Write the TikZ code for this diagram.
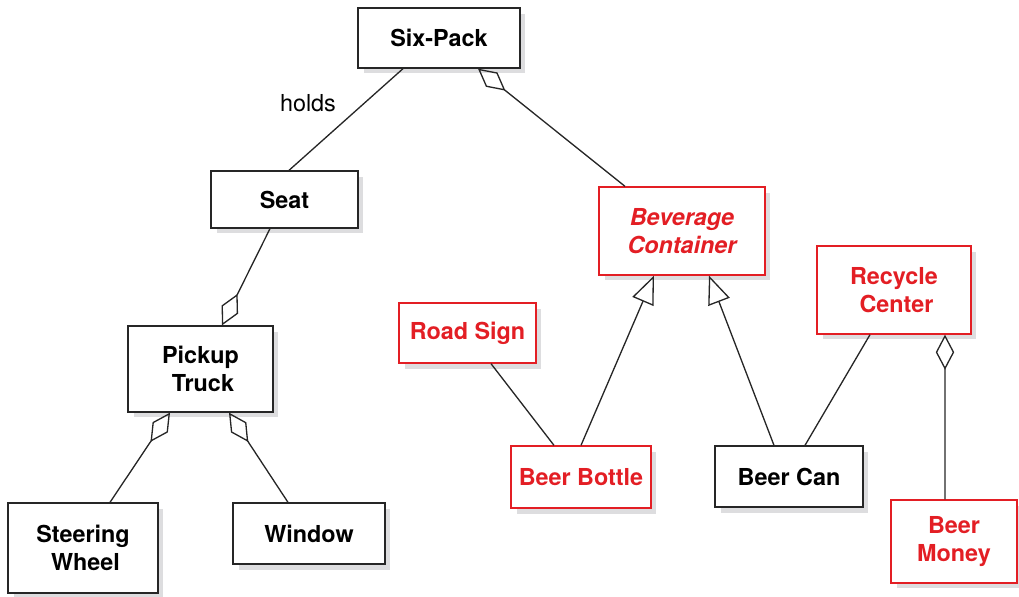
\documentclass[tikz,border=0pt]{standalone}
\usepackage{fontspec}
\setmainfont{TeX Gyre Heros}
\usepackage{tikz}
\usetikzlibrary{arrows.meta, shadows}

\definecolor{umlred}{RGB}{227,30,36}
\definecolor{shadowgray}{RGB}{221,221,223}

\begin{document}
\begin{tikzpicture}[
  x=0.02cm, y=-0.02cm,
  cls/.style={rectangle, draw=black!85, line width=0.75pt, fill=white,
              align=center, inner sep=0pt, font=\fontsize{13.3}{15.5}\selectfont\bfseries,
              drop shadow={shadow xshift=0.11cm, shadow yshift=-0.11cm,
                           fill=shadowgray, opacity=1}},
  redcls/.style={cls, draw=umlred, text=umlred},
  conn/.style={line width=0.75pt, draw=black!85},
  agg/.style={conn, {Diamond[open, length=20pt, width=10.5pt, line width=0.75pt]}-},
  gen/.style={conn, -{Triangle[open, length=16pt, width=13pt, line width=0.75pt]}},
  role/.style={font=\fontsize{13.3}{15.5}\selectfont}
]
\useasboundingbox (0,0) rectangle (1019,596);

% classes
\node[cls, minimum width=3.24cm, minimum height=1.2cm] (sixpack) at (439,38) {Six-Pack};
\node[cls, minimum width=2.94cm, minimum height=1.14cm] (seat) at (284.5,199.5) {Seat};
\node[cls, minimum width=2.9cm, minimum height=1.72cm] (pickup) at (200.5,369) {Pickup\\ \hspace{0.1cm}Truck};
\node[cls, minimum width=3.0cm, minimum height=1.8cm] (wheel) at (83,548) {Steering\\ \hspace{0.1cm}Wheel};
\node[cls, minimum width=3.04cm, minimum height=1.22cm] (window) at (309,533.5) {Window};
\node[redcls, minimum width=3.32cm, minimum height=1.76cm] (container) at (682,231) {\itshape Beverage\\ \itshape Container};
\node[redcls, minimum width=3.08cm, minimum height=1.76cm] (recycle) at (894,290) {Recycle\\ \hspace{0.1cm}Center};
\node[redcls, minimum width=2.74cm, minimum height=1.2cm] (roadsign) at (467.5,333) {Road Sign};
\node[redcls, minimum width=2.8cm, minimum height=1.24cm] (bottle) at (581,477) {Beer Bottle};
\node[cls, minimum width=2.96cm, minimum height=1.22cm] (can) at (789,476.5) {Beer Can};
\node[redcls, minimum width=2.52cm, minimum height=1.66cm] (money) at (954,541.5) {Beer\\ Money};

% associations
\draw[conn] ([xshift=-0.72cm]sixpack.south) -- ([xshift=0.09cm]seat.north);
\node[role] (holds) at (308,103) {holds};
\draw[conn] ([xshift=0.47cm]roadsign.south) -- ([xshift=-0.54cm]bottle.north);
\draw[conn] ([xshift=-0.48cm]recycle.south) -- ([xshift=0.32cm]can.north);

% aggregations
\draw[agg] ([xshift=0.78cm]sixpack.south) -- ([xshift=-1.14cm]container.north);
\draw[agg] ([xshift=0.43cm]pickup.north) -- ([xshift=-0.29cm]seat.south);
\draw[agg] ([xshift=-0.61cm]pickup.south) -- ([xshift=0.54cm]wheel.north);
\draw[agg] ([xshift=0.57cm]pickup.south) -- ([xshift=-0.42cm]window.north);
\draw[agg] ([xshift=1.02cm]recycle.south) -- ([xshift=-0.18cm]money.north);

% generalizations
\draw[gen] (bottle.north) -- ([xshift=-0.56cm]container.south);
\draw[gen] ([xshift=-0.3cm]can.north) -- ([xshift=0.54cm]container.south);

\end{tikzpicture}
\end{document}
